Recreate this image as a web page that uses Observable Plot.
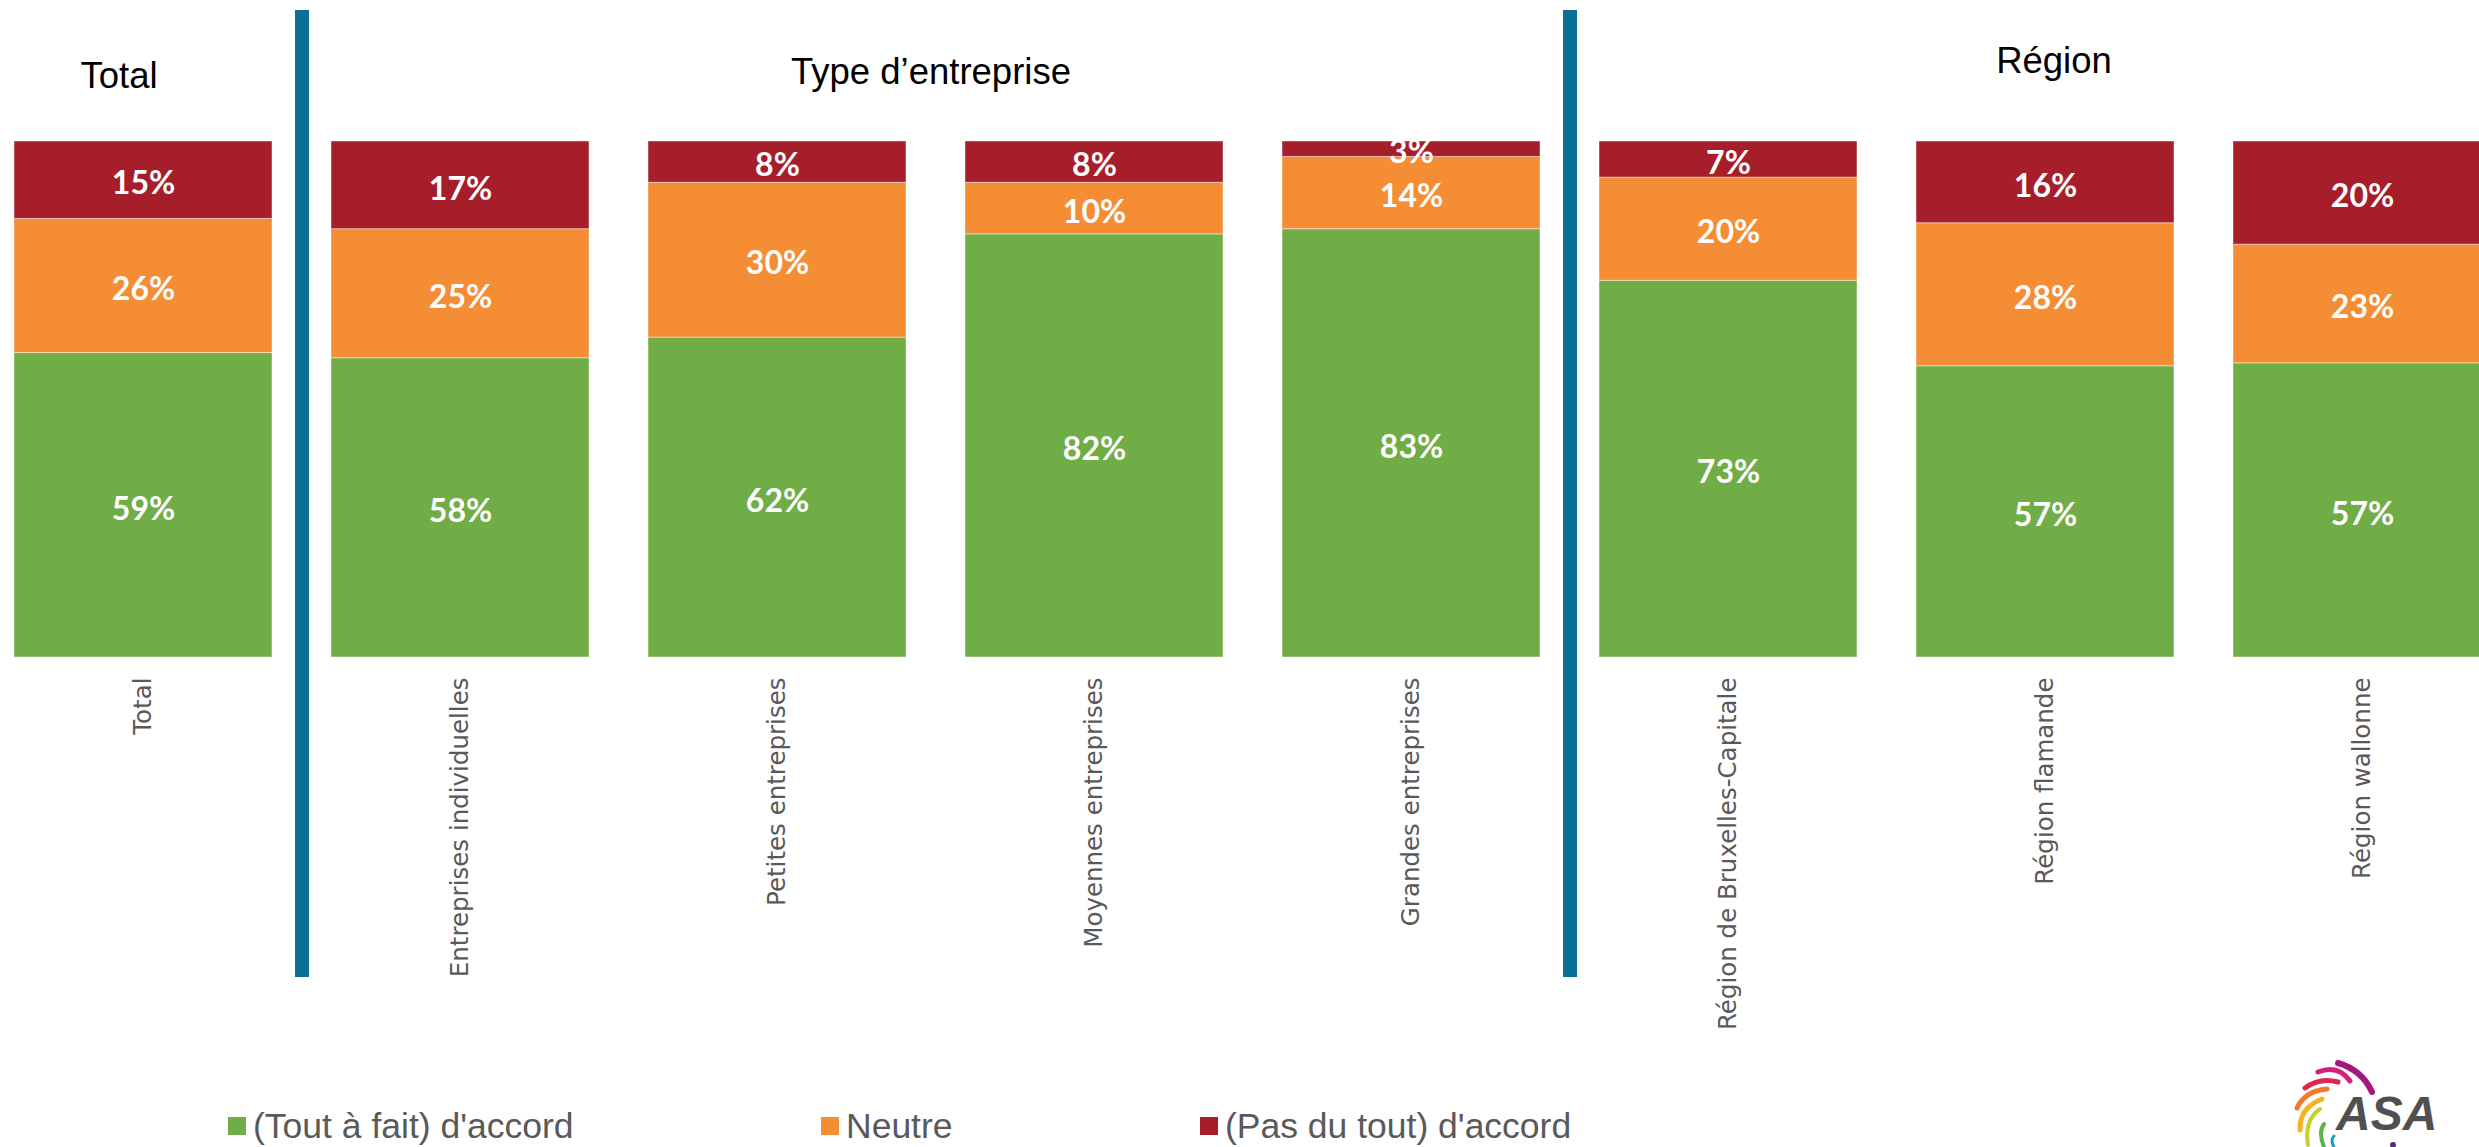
<!DOCTYPE html>
<html><head><meta charset="utf-8">
<script src="https://cdn.jsdelivr.net/npm/d3@7"></script>
<script src="https://cdn.jsdelivr.net/npm/@observablehq/plot@0.6"></script>
<style>
html,body{margin:0;padding:0;background:#fff;overflow:hidden;}
#wrap{position:relative;width:2479px;height:1147px;overflow:hidden;background:#fff;}
#chart{position:absolute;left:0;top:0;}
.hdr{position:absolute;font-family:"Liberation Sans",Arial,sans-serif;font-size:36.5px;color:#000;transform:translateX(-50%);white-space:nowrap;line-height:1;}
.sep{position:absolute;width:14px;background:#0B7095;}
.li{position:absolute;display:flex;align-items:center;white-space:nowrap;font-family:"Liberation Sans",Arial,sans-serif;font-size:35.5px;color:#595959;line-height:40px;height:40px;}
.sw{width:18px;height:18px;margin-right:7px;}
#logo{position:absolute;left:2250px;top:1020px;}
</style></head>
<body>
<div id="wrap"><div id="chart"></div></div>
<script>
const categories = ["Total","Entreprises individuelles","Petites entreprises","Moyennes entreprises","Grandes entreprises","Région de Bruxelles-Capitale","Région flamande","Région wallonne"];
const series = ["(Tout à fait) d'accord","Neutre","(Pas du tout) d'accord"];
const accord    = [59,58,62,82,83,73,57,57];
const neutre    = [26,25,30,10,14,20,28,23];
const pasAccord = [15,17,8,8,3,7,16,20];
const colors = ["#70AD47","#F58D35","#A71E2B"];
const groupLabels = ["Total","Type d’entreprise","Région"];
const groupFirst = [0,1,5];
const groupLast  = [0,4,7];

const seriesValues = [accord, neutre, pasAccord];
const rows = [];
categories.forEach((c,i) => series.forEach((s,j) => rows.push({cat:c, series:s, value:seriesValues[j][i]})));

const W = 2479, H = 1147, barTop = 141, barBottom = 657;
const plot = Plot.plot({
  width: W, height: H,
  marginLeft: 13, marginRight: -14, marginTop: barTop, marginBottom: H - barBottom,
  x: {domain: categories, paddingInner: 0.186, paddingOuter: 0, label: null},
  y: {domain: [0,1], axis: null},
  color: {domain: series, range: colors},
  style: {background: "transparent", overflow: "hidden"},
  marks: [
    Plot.barY(rows, Plot.stackY({offset: "normalize", x: "cat", y: "value", fill: "series",
      stroke: "#ffffff", strokeWidth: 1, strokeOpacity: 0.45})),
    Plot.text(rows, Plot.stackY({offset: "normalize", x: "cat", y: "value", z: "series",
      text: d => d.value + "%", fill: "white", fontSize: 32, fontWeight: "bold", fontFamily: "Lato",
      dy: 4, clip: true})),
    Plot.axisX({anchor: "bottom", tickSize: 0, tickPadding: 20, tickRotate: -90, fontSize: 24.5,
      fill: "#595959", fontFamily: "DejaVu Sans", label: null})
  ]
});
document.getElementById("chart").appendChild(plot);

const wrap = document.getElementById("wrap");
const xs = plot.scale("x");
const bw = xs.bandwidth;
// separators between groups
for (let g = 0; g < groupLast.length - 1; g++) {
  const endPrev = xs.apply(categories[groupLast[g]]) + bw;
  const startNext = xs.apply(categories[groupFirst[g+1]]);
  const mid = (endPrev + startNext) / 2;
  const d = document.createElement("div");
  d.className = "sep";
  d.style.left = (mid - 7) + "px";
  d.style.top = "10px";
  d.style.height = "967px";
  wrap.appendChild(d);
}
// group headers
const hdrPos = [[119, 58], [931, 54], [2054, 43]];
groupLabels.forEach((t, i) => {
  const d = document.createElement("div");
  d.className = "hdr";
  d.textContent = t;
  d.style.left = hdrPos[i][0] + "px";
  d.style.top = hdrPos[i][1] + "px";
  wrap.appendChild(d);
});
// legend
const legX = [228, 821, 1200];
series.forEach((s, i) => {
  const d = document.createElement("div");
  d.className = "li";
  d.style.left = legX[i] + "px";
  d.style.top = "1106px";
  const sw = document.createElement("span");
  sw.className = "sw";
  sw.style.background = colors[i];
  d.appendChild(sw);
  d.appendChild(document.createTextNode(s));
  wrap.appendChild(d);
});
// logo (decorative)
const ns = "http://www.w3.org/2000/svg";
const logo = document.createElementNS(ns, "svg");
logo.setAttribute("id", "logo");
logo.setAttribute("width", "229");
logo.setAttribute("height", "127");
const swirl = [
  ["#A3187F", "M88,43 Q112,50 122,72", 6],
  ["#D61F7C", "M68,52 Q88,44 100,61", 5],
  ["#E0264C", "M55,68 Q70,57 88,62", 5],
  ["#F07C2A", "M47,88 Q55,71 77,69", 5],
  ["#F6B223", "M50,110 Q49,88 72,79", 5],
  ["#C8D02B", "M58,125 Q54,100 70,89", 4],
  ["#5DB346", "M74,127 Q68,112 74,104", 4],
  ["#1BA0B5", "M84,127 Q80,120 84,116", 3]
];
swirl.forEach(([c, d, w]) => {
  const p = document.createElementNS(ns, "path");
  p.setAttribute("d", d);
  p.setAttribute("stroke", c); p.setAttribute("stroke-width", w); p.setAttribute("fill", "none");
  p.setAttribute("stroke-linecap", "round");
  logo.appendChild(p);
});
const lt = document.createElementNS(ns, "text");
lt.setAttribute("x", "86"); lt.setAttribute("y", "110");
lt.setAttribute("font-family", "Liberation Sans"); lt.setAttribute("font-weight", "bold");
lt.setAttribute("font-style", "italic"); lt.setAttribute("font-size", "48");
lt.setAttribute("fill", "#505050"); lt.textContent = "ASA";
logo.appendChild(lt);
const dot = document.createElementNS(ns, "circle");
dot.setAttribute("cx", "143"); dot.setAttribute("cy", "125"); dot.setAttribute("r", "3");
dot.setAttribute("fill", "#5B2A86");
logo.appendChild(dot);
wrap.appendChild(logo);
</script>
</body></html>
